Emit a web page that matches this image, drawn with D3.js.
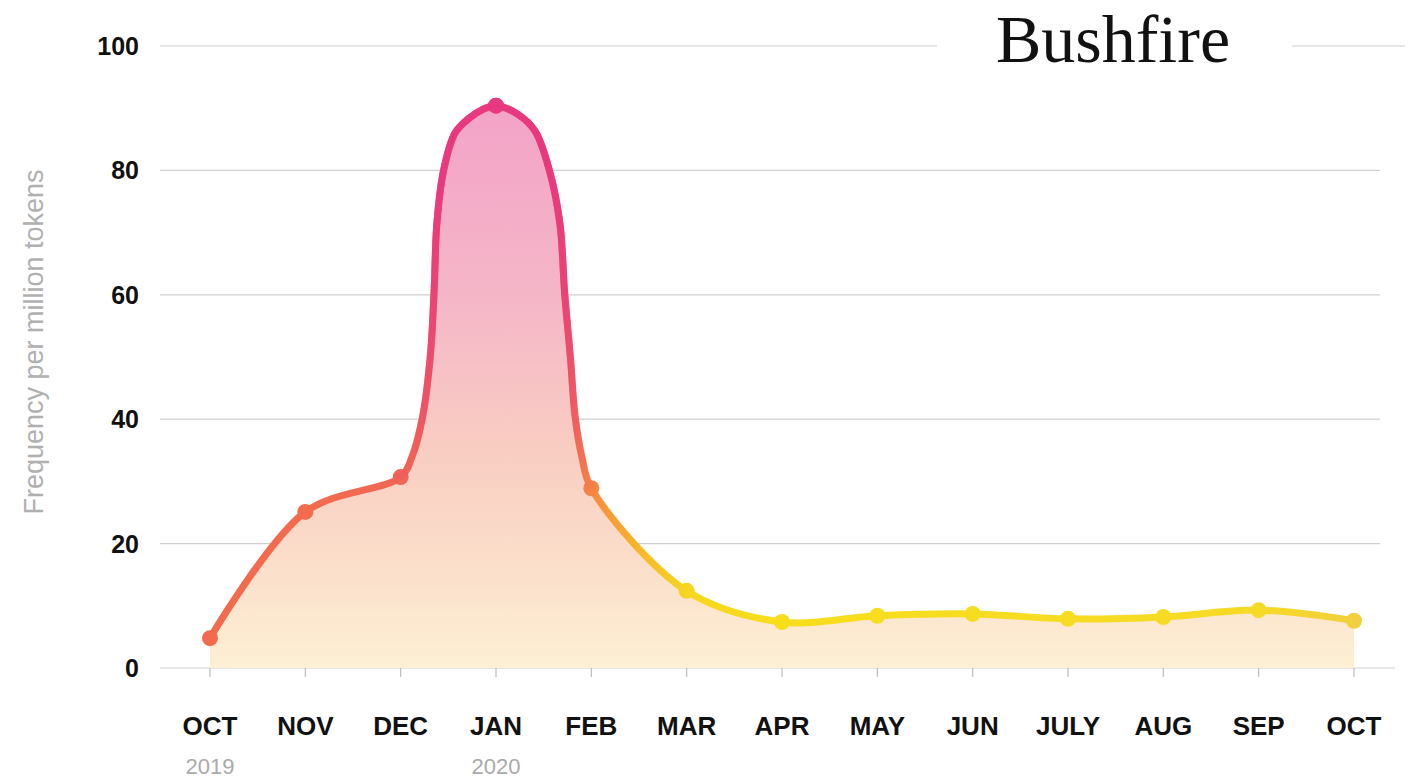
<html>
<head>
<title>Bushfire</title>
<script src="https://d3js.org/d3.v7.min.js"></script>
<style type="text/css">
	body { margin: 0; background: #fff; }
	#chart { width: 1414px; height: 782px; }
</style>
</head>
<body>
<div id="chart"></div>
<script type="text/javascript">
// monthly values (frequency per million tokens)
var months = ["OCT","NOV","DEC","JAN","FEB","MAR","APR","MAY","JUN","JULY","AUG","SEP","OCT"];
var years = ["2019","","","2020","","","","","","","","",""];
var values = [4.8, 25.1, 30.7, 90.4, 28.9, 12.4, 7.4, 8.4, 8.7, 7.9, 8.2, 9.3, 7.6];

// extra readings along the line between months (position in months, value)
var stepPos = [2.12, 2.23, 2.31, 2.35, 2.38, 2.45, 2.57, 2.71, 2.86, 3.23, 3.41, 3.56, 3.67, 3.72, 3.78, 3.83, 3.9];
var stepVal = [34, 40.4, 50, 60.3, 71.5, 80, 86, 88.3, 89.8, 89, 86.3, 80, 71.5, 60.3, 50, 40.4, 34];

var yTicks = [0, 20, 40, 60, 80, 100];

var width = 1414, height = 782;
var svg = d3.select("#chart").append("svg")
	.attr("width", width)
	.attr("height", height);

var x = d3.scaleLinear().domain([0, months.length - 1]).range([210, 1354]);
var y = d3.scaleLinear().domain([0, 100]).range([668, 46]);

// merge monthly and in-between readings into one line
var pts = values.map(function(v, i) { return {t: i, v: v}; });
stepPos.forEach(function(p, i) { pts.push({t: p, v: stepVal[i]}); });
pts.sort(function(a, b) { return a.t - b.t; });

var curve = d3.curveCatmullRom.alpha(0.5);

var defs = svg.append("defs");

// line colour along x
var lineGrad = defs.append("linearGradient")
	.attr("id", "lineGrad")
	.attr("gradientUnits", "userSpaceOnUse")
	.attr("x1", x(0)).attr("x2", x(12)).attr("y1", 0).attr("y2", 0);
[[0, "#f26b4e"], [3.7, "#f26b50"], [4, "#f68a40"], [4.5, "#f6b82a"], [5, "#f6d61e"],
 [6, "#f7de1c"], [11, "#f6da25"], [12, "#f2cf3e"]].forEach(function(s) {
	lineGrad.append("stop")
		.attr("offset", (s[0] / 12))
		.attr("stop-color", s[1]);
});

// pink overlay for the peak, fading out lower down
var pinkGrad = defs.append("linearGradient")
	.attr("id", "pinkGrad")
	.attr("gradientUnits", "userSpaceOnUse")
	.attr("x1", 0).attr("x2", 0).attr("y1", y(100)).attr("y2", y(0));
[[100, 1], [80, 1], [60, 0.8], [40, 0.4], [27, 0], [0, 0]].forEach(function(s) {
	pinkGrad.append("stop")
		.attr("offset", (100 - s[0]) / 100)
		.attr("stop-color", "#e8387f")
		.attr("stop-opacity", s[1]);
});

var areaGrad = defs.append("linearGradient")
	.attr("id", "areaGrad")
	.attr("gradientUnits", "userSpaceOnUse")
	.attr("x1", 0).attr("x2", 0).attr("y1", y(95)).attr("y2", y(0));
[[95, "#f3a0c7"], [60, "#f5b6c8"], [35, "#f9cdc2"], [15, "#fbe0cb"], [0, "#fdf0d4"]].forEach(function(s) {
	areaGrad.append("stop")
		.attr("offset", (95 - s[0]) / 95)
		.attr("stop-color", s[1]);
});

// grid
var grid = svg.append("g").attr("class", "grid");
yTicks.forEach(function(t) {
	if (t === 100) {
		grid.append("line").attr("x1", 160).attr("x2", 937).attr("y1", y(t)).attr("y2", y(t));
		grid.append("line").attr("x1", 1292).attr("x2", 1405).attr("y1", y(t)).attr("y2", y(t));
	} else {
		grid.append("line").attr("x1", 160).attr("x2", t === 0 ? 1395 : 1380).attr("y1", y(t)).attr("y2", y(t));
	}
});
grid.selectAll("line").attr("stroke", "#cfcfcf").attr("stroke-width", 1.2);

// area
var area = d3.area()
	.curve(curve)
	.x(function(d) { return x(d.t); })
	.y0(y(0))
	.y1(function(d) { return y(d.v); });

svg.append("path")
	.datum(pts)
	.attr("d", area)
	.attr("fill", "url(#areaGrad)");

// month ticks
svg.append("g").selectAll("line")
	.data(months)
	.enter().append("line")
	.attr("x1", function(d, i) { return x(i); })
	.attr("x2", function(d, i) { return x(i); })
	.attr("y1", y(0))
	.attr("y2", y(0) + 9)
	.attr("stroke", "#bdbdbd")
	.attr("stroke-width", 1.2);

var line = d3.line()
	.curve(curve)
	.x(function(d) { return x(d.t); })
	.y(function(d) { return y(d.v); });

svg.append("path")
	.datum(pts)
	.attr("d", line)
	.attr("fill", "none")
	.attr("stroke", "url(#lineGrad)")
	.attr("stroke-width", 7)
	.attr("stroke-linejoin", "round");

svg.append("g").selectAll("circle")
	.data(values)
	.enter().append("circle")
	.attr("cx", function(d, i) { return x(i); })
	.attr("cy", function(d) { return y(d); })
	.attr("r", 8)
	.attr("fill", "url(#lineGrad)");

svg.append("path")
	.datum(pts)
	.attr("d", line)
	.attr("fill", "none")
	.attr("stroke", "url(#pinkGrad)")
	.attr("stroke-width", 7)
	.attr("stroke-linejoin", "round");

svg.append("g").selectAll("circle")
	.data(values)
	.enter().append("circle")
	.attr("cx", function(d, i) { return x(i); })
	.attr("cy", function(d) { return y(d); })
	.attr("r", 8)
	.attr("fill", "url(#pinkGrad)");

// y labels
svg.append("g").selectAll("text")
	.data(yTicks)
	.enter().append("text")
	.attr("x", 139)
	.attr("y", function(d) { return y(d); })
	.attr("dy", "0.36em")
	.attr("text-anchor", "end")
	.attr("font-family", "Liberation Sans, Arial, sans-serif")
	.attr("font-weight", "bold")
	.attr("font-size", 25)
	.attr("fill", "#111")
	.text(function(d) { return d; });

svg.append("text")
	.attr("transform", "translate(43,342) rotate(-90)")
	.attr("text-anchor", "middle")
	.attr("font-family", "Liberation Sans, Arial, sans-serif")
	.attr("font-size", 27)
	.attr("fill", "#b0b0b0")
	.text("Frequency per million tokens");

// x labels
svg.append("g").selectAll("text")
	.data(months)
	.enter().append("text")
	.attr("x", function(d, i) { return x(i); })
	.attr("y", 735)
	.attr("text-anchor", "middle")
	.attr("font-family", "Liberation Sans, Arial, sans-serif")
	.attr("font-weight", "bold")
	.attr("font-size", 26)
	.attr("fill", "#111")
	.text(function(d) { return d; });

svg.append("g").selectAll("text")
	.data(years)
	.enter().append("text")
	.attr("x", function(d, i) { return x(i); })
	.attr("y", 774)
	.attr("text-anchor", "middle")
	.attr("font-family", "Liberation Sans, Arial, sans-serif")
	.attr("font-size", 22)
	.attr("fill", "#aaaaaa")
	.text(function(d) { return d; });

// title
svg.append("text")
	.attr("x", 1113)
	.attr("y", 62)
	.attr("text-anchor", "middle")
	.attr("font-family", "Liberation Serif, Times New Roman, serif")
	.attr("font-size", 68)
	.attr("fill", "#111")
	.text("Bushfire");
</script>
</body>
</html>
